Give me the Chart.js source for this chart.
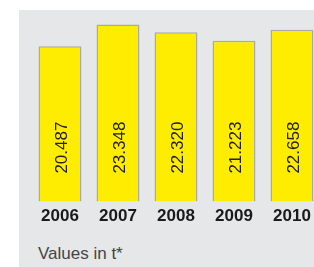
<!DOCTYPE html>
<html>
<head>
<meta charset="utf-8">
<script src="https://cdn.jsdelivr.net/npm/chart.js@4/dist/chart.umd.min.js"></script>
<style>
  html, body { margin: 0; padding: 0; background: #fff; overflow: hidden; width: 314px; height: 267px; }
  #panel { position: absolute; left: 19px; top: 10px; width: 310px; height: 257px; background: #e6e7e9; }
  #wrap { position: absolute; left: 0; top: 0; width: 310px; height: 222px; }
  #note { position: absolute; left: 19px; top: 235px; font: 17px/17px "Liberation Sans", Arial, sans-serif; color: #444; }
</style>
</head>
<body>
<div id="panel">
  <div id="wrap"><canvas id="chart" width="310" height="222"></canvas></div>
  <div id="note">Values in t*</div>
</div>
<script>
const years = ['2006', '2007', '2008', '2009', '2010'];
const tonnes = [20.487, 23.348, 22.320, 21.223, 22.658];
const unitNote = 'Values in t*';

document.getElementById('note').textContent = unitNote;

// value labels written upwards inside each bar
const barValues = {
  id: 'barValues',
  afterDatasetsDraw(chart) {
    const ctx = chart.ctx;
    const meta = chart.getDatasetMeta(0);
    ctx.save();
    ctx.font = '17px "Liberation Sans", Arial, sans-serif';
    ctx.fillStyle = '#222';
    ctx.textAlign = 'left';
    ctx.textBaseline = 'middle';
    meta.data.forEach((bar, i) => {
      ctx.save();
      ctx.translate(bar.x + 2, bar.base - 28);
      ctx.rotate(-Math.PI / 2);
      ctx.fillText(tonnes[i].toFixed(3), 0, 0);
      ctx.restore();
    });
    ctx.restore();
  }
};

new Chart(document.getElementById('chart'), {
  type: 'bar',
  data: {
    labels: years,
    datasets: [{
      data: tonnes,
      backgroundColor: '#ffed00',
      borderColor: '#a9a9a9',
      borderWidth: 1.5,
      categoryPercentage: 1,
      barPercentage: 0.74
    }]
  },
  options: {
    responsive: false,
    animation: false,
    layout: { padding: { left: 12, right: 8, top: 2, bottom: 0 } },
    plugins: {
      legend: { display: false },
      tooltip: { enabled: false }
    },
    scales: {
      x: {
        grid: { display: false, drawTicks: false },
        border: { display: false },
        ticks: {
          padding: 5,
          color: '#1a1a1a',
          font: { family: '"Liberation Sans", Arial, sans-serif', size: 17, weight: 'bold' }
        }
      },
      y: {
        display: false,
        min: 0,
        max: 25
      }
    }
  },
  plugins: [barValues]
});
</script>
</body>
</html>
